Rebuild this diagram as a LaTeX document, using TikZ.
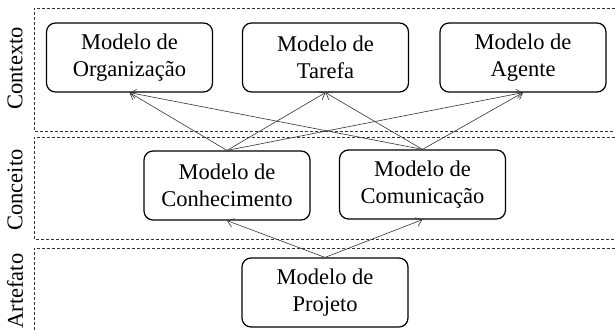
\documentclass[tikz,border=0pt]{standalone}
\usepackage{fontspec}
\setmainfont{Liberation Serif}
\usetikzlibrary{arrows.meta}
\begin{document}
\begin{tikzpicture}[x=1pt,y=-1pt,
  mbox/.style={draw=black, line width=1.2pt, rounded corners=9pt, minimum width=166pt, minimum height=69pt,
    align=center, inner sep=0pt, font=\fontsize{22.5}{27}\selectfont},
  layer/.style={draw=black!80, dash pattern=on 3pt off 2pt, line width=0.6pt},
  lbl/.style={rotate=90, inner sep=0pt, font=\fontsize{22.5}{27}\selectfont},
  conn/.style={draw=black!80, line width=0.6pt, -{Straight Barb[length=6pt,width=9pt,line width=0.6pt]}}]
\useasboundingbox (0,0) rectangle (615,329);
\clip (0,0) rectangle (615,329);
% layers
\draw[layer] (640,8) -- (34,8) -- (34,131) -- (640,131);
\draw[layer] (640,137) -- (34,137) -- (34,239) -- (640,239);
\draw[layer] (640,248) -- (34,248) -- (34,340);
% layer labels
\node[lbl] (lctx) at (15,68.5) {Contexto};
\node[lbl] (lcon) at (15,190) {Conceito};
\node[lbl] (lart) at (15,291) {Artefato};
% nodes
\node[mbox] (org) at (129.5,57.5) {Modelo de\\Organização};
\node[mbox] (tar) at (325.5,57.5) {Modelo de\\Tarefa};
\node[mbox] (age) at (523,57.5) {Modelo de\\Agente};
\node[mbox] (con) at (227,185.5) {Modelo de\\Conhecimento};
\node[mbox] (com) at (422.5,184.5) {Modelo de\\Comunicação};
\node[mbox] (pro) at (325,292.5) {Modelo de\\Projeto};
% connectors
\foreach \s in {con,com}{
  \foreach \t in {org,tar,age}{
    \draw[conn] (\s.north) -- (\t.south);
  }
  \draw[conn] (pro.north) -- (\s.south);
}
\end{tikzpicture}
\end{document}
